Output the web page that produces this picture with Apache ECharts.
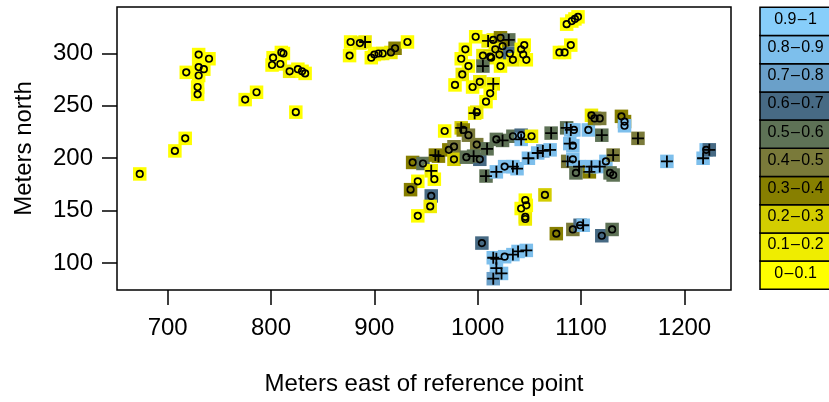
<!DOCTYPE html>
<html>
<head>
<meta charset="utf-8">
<script src="https://cdn.jsdelivr.net/npm/echarts@6/dist/echarts.min.js"></script>
<style>
  html, body { margin: 0; padding: 0; background: #fff; }
  #chart { width: 829px; height: 402px; }
</style>
</head>
<body>
<div id="chart"></div>
<script>
// point positions (meters east / north), probability band and plotting symbol
const east = [673,707,717,718,730,740,730,735,730,729,729,775,786,802,810,812,801,809,818,826,833,830,824,877,876,886,891,897,900,904,908,916,920,932,
  937,947,955,959,958,942,935,955,954,942,
  998,988,984,991,985,978,995,1002,1015,1012,1008,999,997,1010,1015,1022,1030,1024,1017,1005,1012,1021,1013,1031,1005,1034,1022,1045,1042,1044,1047,
  1097,1094,1091,1086,1090,1084,1079,
  968,984,986,991,999,1002,1018,1024,1034,1042,1042,1052,1071,1086,1090,1093,1107,1120,1110,1113,1118,1139,1142,1142,1155,
  1089,1092,1087,1092,1098,1095,1108,1110,1118,1124,1131,1128,1131,1183,1218,1221,1224,
  962,972,977,977,989,996,1009,1008,1018,1026,1034,1038,1049,1058,1063,1070,
  1065,1046,1047,1042,1046,1046,1076,1092,1099,1102,1120,1130,
  1004,1015,1018,1026,1034,1039,1047,1018,1023,1015];
const north = [185,207,219,282,299,295,287,285,279,268,261,256,263,296,301,300,289,290,283,285,281,283,244,311,298,310,311,296,299,300,300,301,305,311,
  196,195,188,203,180,178,170,164,154,145,
  316,304,295,288,280,270,268,273,271,262,254,244,243,312,313,315,313,307,304,298,297,299,296,300,288,294,288,308,304,299,294,
  335,333,331,328,308,301,301,
  226,229,227,222,213,199,218,217,221,222,218,221,224,229,227,227,227,222,241,238,238,240,235,231,219,
  214,212,197,199,192,186,187,192,192,197,203,186,184,197,200,208,208,
  202,208,211,199,201,202,209,183,187,192,192,190,200,205,207,208,
  165,160,155,152,144,142,128,132,136,136,126,132,
  119,105,104,106,108,111,112,95,90,85];
const band = [0,0,0,0,0,0,0,0,0,0,0,0,0,0,0,0,0,0,1,0,0,0,0,0,0,1,1,0,0,0,1,1,3,0,
  3,5,1,3,0,0,3,6,1,0,
  0,0,0,0,1,0,0,1,1,0,0,1,1,1,1,3,5,3,1,1,2,2,1,6,5,1,0,0,0,1,0,
  0,0,0,0,0,0,0,
  0,2,3,4,4,6,5,5,5,6,8,1,5,5,8,8,8,5,1,3,4,3,3,8,4,
  8,8,4,8,8,5,3,8,8,8,4,5,5,8,8,8,6,
  3,3,4,2,5,5,5,5,8,8,8,8,8,8,7,8,
  2,0,0,0,0,1,3,4,6,8,6,5,
  6,8,8,8,8,8,8,8,8,7];
const mark = ['o','o','o','o','o','o','o','o','o','o','o','o','o','o','o','o','o','o','o','o','o','o','o','o','o','o','+','o','o','o','o','o','o','o',
  'o','o','+','+','o','o','o','o','o','o',
  'o','o','o','o','o','o','o','o','+','o','o','o','+','+','o','o','+','o','o','o','o','o','o','o','+','o','o','o','o','o','o',
  'o','o','o','o','o','o','o',
  'o','+','o','o','o','o','o','+','o','o','+','o','+','+','+','o','o','+','o','o','o','o','o','o','+',
  '+','o','+','o','+','o','+','+','+','o','+','o','o','+','+','o','+',
  '+','o','o','o','o','+','+','+','+','o','+','+','+','+','+','+',
  'o','o','o','o','o','o','o','o','o','+','o','o',
  'o','+','+','o','+','+','+','+','+','+'];

const bandLabels = ['0\u200a\u2013\u200a0.1','0.1\u200a\u2013\u200a0.2','0.2\u200a\u2013\u200a0.3','0.3\u200a\u2013\u200a0.4','0.4\u200a\u2013\u200a0.5',
  '0.5\u200a\u2013\u200a0.6','0.6\u200a\u2013\u200a0.7','0.7\u200a\u2013\u200a0.8','0.8\u200a\u2013\u200a0.9','0.9\u200a\u2013\u200a1'];
const bandColors = ['#ffff00','#efed00','#d3cd00','#877f00','#7a7a3a',
  '#5e7256','#476a84','#6aa0c9','#7dbfec','#87cefa'];

const xTicks = [700, 800, 900, 1000, 1100, 1200];
const yTicks = [100, 150, 200, 250, 300];

const font = "'Liberation Sans', Arial, Helvetica, sans-serif";

const squares = east.map((x, i) => [x, north[i], band[i]]);
const circles = east.map((x, i) => [x, north[i]]).filter((d, i) => mark[i] === 'o');
const pluses = east.map((x, i) => [x, north[i]]).filter((d, i) => mark[i] === '+');

// legend key on the right
const keyTop = 7.3, keyH = 28.2, keyLeft = 760, keyW = 72;
const keyItems = [];
bandLabels.forEach((lab, i) => {
  const row = bandLabels.length - 1 - i;
  keyItems.push({
    type: 'rect',
    shape: { x: keyLeft, y: keyTop + row * keyH, width: keyW, height: keyH },
    style: { fill: bandColors[i], stroke: '#000', lineWidth: 1.5 }
  });
  keyItems.push({
    type: 'text',
    x: keyLeft + keyW / 2 - 0.5, y: keyTop + row * keyH + keyH / 2 - 2,
    style: { text: lab, fill: '#000', fontSize: 16, fontFamily: font, align: 'center', verticalAlign: 'middle' }
  });
});

const chart = echarts.init(document.getElementById('chart'));
chart.setOption({
  animation: false,
  backgroundColor: '#fff',
  grid: {
    left: 117, right: 98, top: 7, bottom: 112,
    show: true, borderColor: '#000', borderWidth: 1.5, backgroundColor: 'transparent'
  },
  xAxis: {
    type: 'value', min: 651, max: 1245,
    name: 'Meters east of reference point', nameLocation: 'middle', nameGap: 82,
    nameTextStyle: { fontFamily: font, fontSize: 24, color: '#000' },
    axisLine: { show: false },
    splitLine: { show: false },
    axisTick: { show: true, length: 15, lineStyle: { color: '#000', width: 1.5 }, customValues: xTicks },
    axisLabel: { margin: 26, fontFamily: font, fontSize: 24, color: '#000', customValues: xTicks, formatter: v => String(v) }
  },
  yAxis: {
    type: 'value', min: 74.2, max: 344.4,
    name: 'Meters north', nameLocation: 'middle', nameGap: 81, nameRotate: 90,
    nameTextStyle: { fontFamily: font, fontSize: 24, color: '#000' },
    axisLine: { show: false },
    splitLine: { show: false },
    axisTick: { show: true, length: 15, lineStyle: { color: '#000', width: 1.5 }, customValues: yTicks },
    axisLabel: { margin: 24, fontFamily: font, fontSize: 24, color: '#000', customValues: yTicks, formatter: v => String(v) }
  },
  series: [
    {
      type: 'scatter', data: squares, symbol: 'rect', symbolSize: 13.5, silent: true,
      itemStyle: { opacity: 1, color: p => bandColors[p.data[2]] }
    },
    {
      type: 'scatter', data: circles, symbol: 'circle', symbolSize: 6.5, silent: true,
      itemStyle: { color: 'rgba(0,0,0,0)', borderColor: '#000', borderWidth: 1.7, opacity: 1 }
    },
    {
      type: 'scatter', data: pluses, silent: true, symbolSize: 12,
      symbol: 'path://M5.1,0H6.9V5.1H12V6.9H6.9V12H5.1V6.9H0V5.1H5.1Z',
      itemStyle: { color: '#000', opacity: 1 }
    }
  ],
  graphic: keyItems
});
</script>
</body>
</html>
